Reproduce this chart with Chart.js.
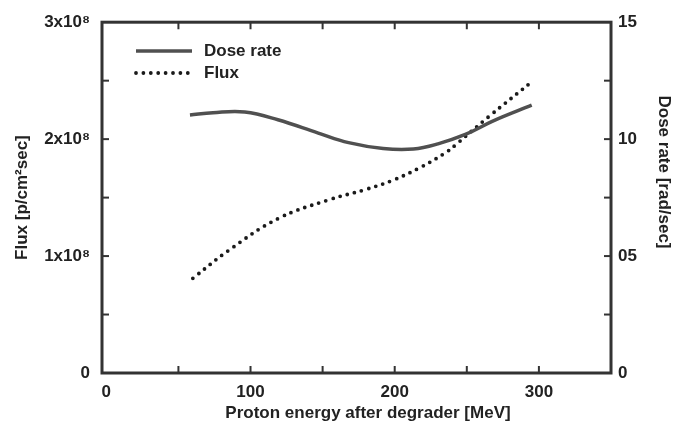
<!DOCTYPE html>
<html>
<head>
<meta charset="utf-8">
<script src="https://cdn.jsdelivr.net/npm/chart.js@4.4.1/dist/chart.umd.min.js"></script>
<style>
  html, body { margin: 0; padding: 0; background: #fff; }
  #wrap { width: 675px; height: 430px; position: relative; }
</style>
</head>
<body>
<div id="wrap"><canvas id="chart"></canvas></div>
<script>
// Dose rate curve (right axis, rad/sec)
const doseEnergy = [58, 74, 96, 119, 147, 168, 192, 213, 230, 249, 268, 295];
const doseRate = [11.03, 11.13, 11.16, 10.83, 10.26, 9.85, 9.60, 9.58, 9.80, 10.20, 10.77, 11.45];

// Flux curve (left axis, p/cm2sec)
const fluxEnergy = [60, 85, 119, 154, 180, 199, 218, 236, 244, 265, 296];
const flux = [0.81e8, 1.05e8, 1.32e8, 1.48e8, 1.57e8, 1.65e8, 1.76e8, 1.89e8, 1.97e8, 2.19e8, 2.50e8];

// Axis ticks and their labels
const energyTicks = [0, 50, 100, 150, 200, 250, 300, 350];
const energyLabels = ['0', '', '100', '', '200', '', '300', ''];
const fluxTicks = [0, 0.5e8, 1e8, 1.5e8, 2e8, 2.5e8, 3e8];
const fluxLabels = ['0', '', '1x10⁸', '', '2x10⁸', '', '3x10⁸'];
const doseTicks = [0, 2.5, 5, 7.5, 10, 12.5, 15];
const doseLabels = ['0', '', '05', '', '10', '', '15'];

const xTitle = 'Proton energy after degrader [MeV]';
const yTitle = 'Flux [p/cm²sec]';
const y2Title = 'Dose rate [rad/sec]';

const ink = '#222';
const fontFamily = '"Liberation Sans", Arial, sans-serif';

// Frame, inward tick marks, legend and the two free-standing titles
const framePlugin = {
    id: 'frame',
    afterDraw(chart) {
        const { ctx, chartArea: a, scales } = chart;
        ctx.save();
        ctx.strokeStyle = '#333';
        ctx.lineWidth = 3;
        ctx.strokeRect(a.left, a.top, a.right - a.left, a.bottom - a.top);

        ctx.lineWidth = 2;
        const len = 7;
        energyTicks.forEach(v => {
            const px = scales.x.getPixelForValue(v);
            if (px < a.left + 6 || px > a.right - 6) return;
            ctx.beginPath();
            ctx.moveTo(px, a.bottom); ctx.lineTo(px, a.bottom - len);
            ctx.moveTo(px, a.top); ctx.lineTo(px, a.top + len);
            ctx.stroke();
        });
        fluxTicks.forEach(v => {
            const py = scales.y.getPixelForValue(v);
            if (py < a.top + 6 || py > a.bottom - 6) return;
            ctx.beginPath();
            ctx.moveTo(a.left, py); ctx.lineTo(a.left + len, py);
            ctx.stroke();
        });
        doseTicks.forEach(v => {
            const py = scales.y2.getPixelForValue(v);
            if (py < a.top + 6 || py > a.bottom - 6) return;
            ctx.beginPath();
            ctx.moveTo(a.right, py); ctx.lineTo(a.right - len, py);
            ctx.stroke();
        });

        // Legend inside the plot
        ctx.font = 'bold 17px ' + fontFamily;
        ctx.textBaseline = 'middle';
        ctx.fillStyle = ink;
        chart.data.datasets.forEach((ds, i) => {
            const y = 51 + i * 22;
            ctx.beginPath();
            ctx.strokeStyle = ds.borderColor;
            ctx.lineWidth = ds.borderWidth;
            ctx.lineCap = ds.borderCapStyle || 'butt';
            ctx.setLineDash(ds.borderDash || []);
            ctx.moveTo(136, y); ctx.lineTo(192, y);
            ctx.stroke();
            ctx.setLineDash([]);
            ctx.fillText(ds.label, 204, y);
        });

        // x title
        ctx.textAlign = 'center';
        ctx.fillText(xTitle, 368, 413);

        // right title, reading top to bottom
        ctx.translate(664, 172);
        ctx.rotate(Math.PI / 2);
        ctx.fillText(y2Title, 0, 0);
        ctx.restore();
    }
};

const ctx = document.getElementById('chart').getContext('2d');
new Chart(ctx, {
    type: 'line',
    data: {
        datasets: [
            {
                label: 'Dose rate',
                data: doseEnergy.map((e, i) => ({ x: e, y: doseRate[i] })),
                yAxisID: 'y2',
                borderColor: '#505050',
                borderWidth: 3.5,
                pointRadius: 0,
                fill: false,
                tension: 0.4
            },
            {
                label: 'Flux',
                data: fluxEnergy.map((e, i) => ({ x: e, y: flux[i] })),
                yAxisID: 'y',
                borderColor: '#1a1a1a',
                borderWidth: 3.8,
                borderDash: [0, 7.4],
                borderCapStyle: 'round',
                pointRadius: 0,
                fill: false,
                tension: 0.4
            }
        ]
    },
    options: {
        responsive: true,
        maintainAspectRatio: false,
        animation: false,
        layout: { padding: { top: 21, left: 0, right: 0, bottom: 0 } },
        plugins: {
            legend: { display: false },
            tooltip: { enabled: false }
        },
        scales: {
            x: {
                type: 'linear',
                position: 'bottom',
                min: -3,
                max: 350,
                afterFit(scale) { scale.height = 57; },
                afterBuildTicks(scale) { scale.ticks = energyTicks.map(v => ({ value: v })); },
                grid: { display: false, drawTicks: false },
                border: { display: false },
                ticks: {
                    autoSkip: false,
                    maxRotation: 0,
                    padding: 9,
                    color: ink,
                    font: { family: fontFamily, size: 17, weight: 'bold' },
                    callback: (v, i) => energyLabels[i]
                }
            },
            y: {
                type: 'linear',
                position: 'left',
                min: 0,
                max: 3e8,
                afterFit(scale) { scale.width = 102; },
                afterBuildTicks(scale) { scale.ticks = fluxTicks.map(v => ({ value: v })); },
                grid: { display: false, drawTicks: false },
                border: { display: false },
                ticks: {
                    autoSkip: false,
                    padding: 12,
                    color: ink,
                    font: { family: fontFamily, size: 17, weight: 'bold' },
                    callback: (v, i) => fluxLabels[i]
                },
                title: {
                    display: true,
                    text: yTitle,
                    color: ink,
                    padding: { top: 12, bottom: 0 },
                    font: { family: fontFamily, size: 17, weight: 'bold' }
                }
            },
            y2: {
                type: 'linear',
                position: 'right',
                min: 0,
                max: 15,
                afterFit(scale) { scale.width = 64; },
                afterBuildTicks(scale) { scale.ticks = doseTicks.map(v => ({ value: v })); },
                grid: { display: false, drawTicks: false },
                border: { display: false },
                ticks: {
                    autoSkip: false,
                    padding: 7,
                    color: ink,
                    font: { family: fontFamily, size: 17, weight: 'bold' },
                    callback: (v, i) => doseLabels[i]
                }
            }
        }
    },
    plugins: [framePlugin]
});
</script>
</body>
</html>
